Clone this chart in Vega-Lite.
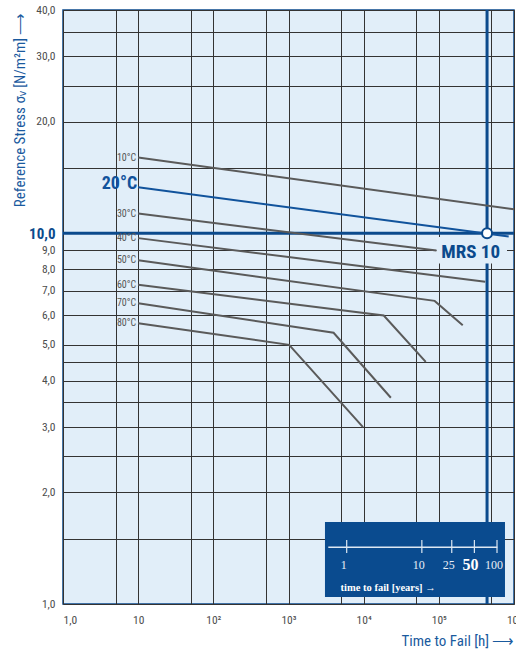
{
  "$schema": "https://vega.github.io/schema/vega-lite/v6.json",
  "width": 451,
  "height": 594,
  "autosize": "none",
  "padding": {"left": 63, "top": 10, "right": 2, "bottom": 47},
  "background": "white",
  "config": {
    "view": {"fill": "#e1eef9", "stroke": "#0b4a8c", "strokeWidth": 1.5},
    "font": "Roboto Condensed, Roboto, sans-serif"
  },
  "datasets": {
    "curves": [
      {"T": "10°C", "order": 1, "t": 10, "s": 16.0},
      {"T": "10°C", "order": 2, "t": 1000000, "s": 11.6},
      {"T": "20°C", "order": 1, "t": 10, "s": 13.3},
      {"T": "20°C", "order": 2, "t": 850000, "s": 9.8},
      {"T": "30°C", "order": 1, "t": 10, "s": 11.3},
      {"T": "30°C", "order": 2, "t": 93000, "s": 8.98},
      {"T": "40°C", "order": 1, "t": 10, "s": 9.7},
      {"T": "40°C", "order": 2, "t": 414000, "s": 7.4},
      {"T": "50°C", "order": 1, "t": 10, "s": 8.45},
      {"T": "50°C", "order": 2, "t": 88000, "s": 6.57},
      {"T": "50°C", "order": 3, "t": 208000, "s": 5.65},
      {"T": "60°C", "order": 1, "t": 10, "s": 7.26},
      {"T": "60°C", "order": 2, "t": 18500, "s": 6.0},
      {"T": "60°C", "order": 3, "t": 67000, "s": 4.5},
      {"T": "70°C", "order": 1, "t": 10, "s": 6.47},
      {"T": "70°C", "order": 2, "t": 3980, "s": 5.39},
      {"T": "70°C", "order": 3, "t": 23000, "s": 3.6},
      {"T": "80°C", "order": 1, "t": 10, "s": 5.72},
      {"T": "80°C", "order": 2, "t": 1020, "s": 5.0},
      {"T": "80°C", "order": 3, "t": 9800, "s": 3.0}
    ],
    "years": [
      {"yr": 1, "lab": "1"},
      {"yr": 10, "lab": "10"},
      {"yr": 25, "lab": "25"},
      {"yr": 50, "lab": "50"},
      {"yr": 100, "lab": "100"}
    ],
    "one": [{}]
  },
  "resolve": {"scale": {"x": "independent"}},
  "layer": [
    {
      "layer": [
        {
          "data": {"name": "one"},
          "mark": {"type": "rule", "color": "#0b4a8c", "strokeWidth": 3},
          "encoding": {
            "y": {
              "datum": 10,
              "type": "quantitative",
              "scale": {"type": "log", "domain": [1, 40], "nice": false},
              "axis": {
                "values": [1, 1.5, 2, 2.5, 3, 3.5, 4, 4.5, 5, 6, 7, 8, 9, 10, 15, 20, 25, 30, 35, 40],
                "labelExpr": "(datum.value < 10 ? datum.value % 1 == 0 : datum.value % 10 == 0) ? replace(format(datum.value, '.1f'), '.', ',') : ''",
                "ticks": false,
                "domain": false,
                "grid": true,
                "gridColor": "#333333",
                "gridWidth": 1,
                "gridOpacity": 1,
                "labelPadding": 8,
                "labelFontSize": {"condition": {"test": "datum.value == 10", "value": 15}, "value": 11.5},
                "labelFontWeight": {"condition": {"test": "datum.value == 10", "value": "bold"}, "value": "normal"},
                "labelColor": {"condition": {"test": "datum.value == 10", "value": "#0b4a8c"}, "value": "#4d4d4d"},
                "labelOverlap": false,
                "labelBound": false,
                "labelFlush": false,
                "title": "Reference Stress σᵥ [N/m²m] ⟶",
                "titleColor": "#1a5a9e",
                "titleFontSize": 15,
                "titleFontWeight": "normal",
                "titleX": -44,
                "titleY": 2,
                "titleAlign": "right",
                "titleAngle": -90,
                "titleBaseline": "middle"
              }
            }
          }
        },
        {
          "data": {"name": "one"},
          "mark": {"type": "rule", "color": "#0b4a8c", "strokeWidth": 3},
          "encoding": {
            "x": {
              "datum": 438000,
              "type": "quantitative",
              "scale": {"type": "log", "domain": [1, 1000000], "nice": false},
              "axis": {
                "values": [1, 5, 10, 50, 100, 500, 1000, 5000, 10000, 50000, 100000, 500000, 1000000],
                "labelExpr": "datum.value == 1 ? '1,0' : datum.value == 10 ? '10' : datum.value == 100 ? '10²' : datum.value == 1000 ? '10³' : datum.value == 10000 ? '10⁴' : datum.value == 100000 ? '10⁵' : datum.value == 1000000 ? '10⁶' : ''",
                "ticks": false,
                "domain": false,
                "grid": true,
                "gridColor": "#333333",
                "gridWidth": 1,
                "gridOpacity": 1,
                "labelPadding": 10,
                "labelFontSize": 11.5,
                "labelColor": "#4d4d4d",
                "labelBaseline": "top",
                "labelAlign": {"condition": {"test": "datum.value == 1", "value": "left"}, "value": "center"},
                "labelOverlap": false,
                "labelBound": false,
                "labelFlush": false,
                "title": "Time to Fail [h] ⟶",
                "titleColor": "#1a5a9e",
                "titleFontSize": 15,
                "titleFontWeight": "normal",
                "titleX": 451,
                "titleY": 41,
                "titleAlign": "right",
                "titleBaseline": "alphabetic"
              }
            }
          }
        },
        {
          "data": {"name": "one"},
          "mark": {"type": "rect", "fill": "#e1eef9"},
          "encoding": {
            "x": {"datum": 93000, "type": "quantitative", "scale": {"type": "log", "domain": [1, 1000000], "nice": false}},
            "x2": {"datum": 807000},
            "y": {"datum": 8.29, "type": "quantitative", "scale": {"type": "log", "domain": [1, 40], "nice": false}},
            "y2": {"datum": 9.77}
          }
        },
        {
          "data": {"name": "curves"},
          "mark": {"type": "line", "strokeWidth": 2},
          "encoding": {
            "x": {"field": "t", "type": "quantitative", "scale": {"type": "log", "domain": [1, 1000000], "nice": false}},
            "y": {"field": "s", "type": "quantitative", "scale": {"type": "log", "domain": [1, 40], "nice": false}},
            "detail": {"field": "T"},
            "order": {"field": "order"},
            "color": {
              "field": "T",
              "type": "nominal",
              "scale": {
                "domain": ["10°C", "20°C", "30°C", "40°C", "50°C", "60°C", "70°C", "80°C"],
                "range": ["#5a5a5a", "#11539c", "#5a5a5a", "#5a5a5a", "#5a5a5a", "#5a5a5a", "#5a5a5a", "#5a5a5a"]
              },
              "legend": null
            }
          }
        },
        {
          "data": {"name": "curves"},
          "transform": [{"filter": "datum.order == 1 && datum.T != '20°C'"}],
          "mark": {"type": "text", "align": "right", "baseline": "middle", "dx": -2, "fontSize": 10, "color": "#555555"},
          "encoding": {
            "x": {"field": "t", "type": "quantitative", "scale": {"type": "log", "domain": [1, 1000000], "nice": false}},
            "y": {"field": "s", "type": "quantitative", "scale": {"type": "log", "domain": [1, 40], "nice": false}},
            "text": {"field": "T"}
          }
        },
        {
          "data": {"name": "curves"},
          "transform": [{"filter": "datum.order == 1 && datum.T == '20°C'"}],
          "mark": {"type": "text", "align": "right", "baseline": "middle", "dx": -1, "dy": -3, "fontSize": 18, "fontWeight": "bold", "color": "#11539c"},
          "encoding": {
            "x": {"field": "t", "type": "quantitative", "scale": {"type": "log", "domain": [1, 1000000], "nice": false}},
            "y": {"field": "s", "type": "quantitative", "scale": {"type": "log", "domain": [1, 40], "nice": false}},
            "text": {"field": "T"}
          }
        },
        {
          "data": {"name": "one"},
          "mark": {"type": "point", "filled": true, "fill": "white", "stroke": "#0b4a8c", "strokeWidth": 2, "size": 100, "opacity": 1},
          "encoding": {
            "x": {"datum": 438000, "type": "quantitative", "scale": {"type": "log", "domain": [1, 1000000], "nice": false}},
            "y": {"datum": 10, "type": "quantitative", "scale": {"type": "log", "domain": [1, 40], "nice": false}}
          }
        },
        {
          "data": {"name": "one"},
          "mark": {"type": "text", "align": "center", "baseline": "alphabetic", "fontSize": 19, "fontWeight": "bold", "color": "#0b4a8c"},
          "encoding": {
            "x": {"datum": 265000, "type": "quantitative", "scale": {"type": "log", "domain": [1, 1000000], "nice": false}},
            "y": {"datum": 8.6, "type": "quantitative", "scale": {"type": "log", "domain": [1, 40], "nice": false}},
            "text": {"value": "MRS 10"}
          }
        }
      ]
    },
    {
      "layer": [
        {
          "data": {"name": "one"},
          "mark": {"type": "rect", "fill": "#0a4b8f"},
          "encoding": {
            "x": {"datum": 0.514, "type": "quantitative", "scale": {"type": "log", "domain": [0.000168, 168.3], "nice": false}, "axis": null},
            "x2": {"datum": 127.7},
            "y": {"datum": 1.044, "type": "quantitative", "scale": {"type": "log", "domain": [1, 40], "nice": false}},
            "y2": {"datum": 1.664}
          }
        },
        {
          "data": {"name": "one"},
          "mark": {"type": "rule", "color": "#dde8f3", "strokeWidth": 1.5},
          "encoding": {
            "x": {"datum": 0.569, "type": "quantitative", "scale": {"type": "log", "domain": [0.000168, 168.3], "nice": false}, "axis": null},
            "x2": {"datum": 101},
            "y": {"datum": 1.422, "type": "quantitative", "scale": {"type": "log", "domain": [1, 40], "nice": false}}
          }
        },
        {
          "data": {"name": "years"},
          "mark": {"type": "rule", "color": "#dde8f3", "strokeWidth": 1.2},
          "encoding": {
            "x": {"field": "yr", "type": "quantitative", "scale": {"type": "log", "domain": [0.000168, 168.3], "nice": false}, "axis": null},
            "y": {"datum": 1.373, "type": "quantitative", "scale": {"type": "log", "domain": [1, 40], "nice": false}},
            "y2": {"datum": 1.488}
          }
        },
        {
          "data": {"name": "years"},
          "transform": [{"filter": "datum.yr != 50"}],
          "mark": {"type": "text", "align": "center", "baseline": "alphabetic", "dx": -3, "font": "Liberation Serif, DejaVu Serif, serif", "fontSize": 12, "color": "#e8eef6"},
          "encoding": {
            "x": {"field": "yr", "type": "quantitative", "scale": {"type": "log", "domain": [0.000168, 168.3], "nice": false}, "axis": null},
            "y": {"datum": 1.239, "type": "quantitative", "scale": {"type": "log", "domain": [1, 40], "nice": false}},
            "text": {"field": "lab"}
          }
        },
        {
          "data": {"name": "years"},
          "transform": [{"filter": "datum.yr == 50"}],
          "mark": {"type": "text", "align": "center", "baseline": "alphabetic", "dx": -4, "font": "Liberation Serif, DejaVu Serif, serif", "fontSize": 16, "fontWeight": "bold", "color": "white"},
          "encoding": {
            "x": {"field": "yr", "type": "quantitative", "scale": {"type": "log", "domain": [0.000168, 168.3], "nice": false}, "axis": null},
            "y": {"datum": 1.232, "type": "quantitative", "scale": {"type": "log", "domain": [1, 40], "nice": false}},
            "text": {"field": "lab"}
          }
        },
        {
          "data": {"name": "one"},
          "mark": {"type": "text", "align": "left", "baseline": "alphabetic", "font": "Liberation Serif, DejaVu Serif, serif", "fontSize": 10.5, "fontWeight": "bold", "color": "white"},
          "encoding": {
            "x": {"datum": 0.83, "type": "quantitative", "scale": {"type": "log", "domain": [0.000168, 168.3], "nice": false}, "axis": null},
            "y": {"datum": 1.084, "type": "quantitative", "scale": {"type": "log", "domain": [1, 40], "nice": false}},
            "text": {"value": "time to fail [years] →"}
          }
        }
      ]
    }
  ]
}
